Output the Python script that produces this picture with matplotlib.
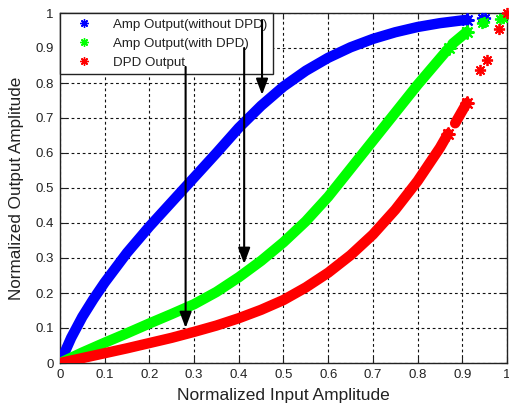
import matplotlib
matplotlib.use("Agg")
import matplotlib.pyplot as plt
from matplotlib.lines import Line2D

plt.rcParams['font.family'] = ['Liberation Sans', 'DejaVu Sans']

# ---- data ----
blue_x = [0.0, 0.025, 0.05, 0.075, 0.10, 0.15, 0.20, 0.25, 0.30, 0.35, 0.40, 0.45, 0.50,
          0.55, 0.60, 0.65, 0.70, 0.75, 0.80, 0.85, 0.90, 0.91]
blue_y = [0.0, 0.072, 0.132, 0.183, 0.23, 0.315, 0.39, 0.46, 0.53, 0.60, 0.672, 0.735, 0.79,
          0.835, 0.872, 0.902, 0.926, 0.945, 0.96, 0.971, 0.979, 0.98]
blue_extra_x = [0.944, 0.95]
blue_extra_y = [0.985, 0.987]

green_x1 = [0.0, 0.05, 0.10, 0.15, 0.20, 0.25, 0.30, 0.35, 0.40, 0.45, 0.50, 0.55, 0.60,
            0.65, 0.70, 0.75, 0.80, 0.85, 0.87]
green_y1 = [0.0, 0.03, 0.058, 0.085, 0.113, 0.14, 0.168, 0.203, 0.245, 0.292, 0.345, 0.405,
            0.475, 0.555, 0.635, 0.715, 0.795, 0.87, 0.90]
green_x2 = [0.878, 0.91]
green_y2 = [0.912, 0.946]
green_extra_x = [0.944, 0.948, 0.984, 0.99]
green_extra_y = [0.971, 0.975, 0.983, 0.985]

red_x1 = [0.0, 0.05, 0.10, 0.15, 0.20, 0.25, 0.30, 0.35, 0.40, 0.45, 0.50, 0.55, 0.60,
          0.65, 0.70, 0.75, 0.80, 0.85, 0.868]
red_y1 = [0.0, 0.014, 0.028, 0.042, 0.057, 0.072, 0.089, 0.107, 0.128, 0.152, 0.18, 0.216,
          0.258, 0.308, 0.367, 0.438, 0.52, 0.615, 0.655]
red_x2 = [0.884, 0.91]
red_y2 = [0.685, 0.743]
red_extra_x = [0.94, 0.955, 0.982, 1.0]
red_extra_y = [0.837, 0.866, 0.954, 1.0]

labels = ['Amp Output(without DPD)', 'Amp Output(with DPD)', 'DPD Output']
colors = ['#0000ff', '#00ff00', '#ff0000']

ticks = [0, 0.1, 0.2, 0.3, 0.4, 0.5, 0.6, 0.7, 0.8, 0.9, 1]
tick_labels = ['0', '0.1', '0.2', '0.3', '0.4', '0.5', '0.6', '0.7', '0.8', '0.9', '1']

# arrows: x, y_start, y_end
arrow_x = [0.281, 0.412, 0.452]
arrow_y0 = [0.846, 0.90, 0.98]
arrow_y1 = [0.10, 0.283, 0.766]

# ---- figure ----
fig = plt.figure(figsize=(5.1, 4.08), dpi=100)
ax = fig.add_axes([60/510, 1-363/408, (507-60)/510, (363-13)/408])

ast = (8, 2, 0)
lw = 7.5
ms = 8
for xs, ys, c in [(blue_x, blue_y, colors[0]), (green_x1, green_y1, colors[1]),
                  (green_x2, green_y2, colors[1]), (red_x1, red_y1, colors[2]),
                  (red_x2, red_y2, colors[2])]:
    ax.plot(xs, ys, color=c, lw=lw, solid_capstyle='round', solid_joinstyle='round', zorder=3)
    ax.plot([xs[-1]], [ys[-1]], linestyle='none', marker=ast, ms=ms + 2, mec=c, mew=1.5, zorder=3)

for xs, ys, c in [(blue_extra_x, blue_extra_y, colors[0]), (green_extra_x, green_extra_y, colors[1]),
                  (red_extra_x, red_extra_y, colors[2])]:
    ax.plot(xs, ys, linestyle='none', marker=ast, ms=ms, mec=c, mew=1.3, zorder=4, clip_on=False)

for x, y0, y1 in zip(arrow_x, arrow_y0, arrow_y1):
    ax.annotate('', xy=(x, y1), xytext=(x, y0),
                arrowprops=dict(arrowstyle='-|>,head_length=0.8,head_width=0.3', color='k',
                                lw=1.5, shrinkA=0, shrinkB=0, mutation_scale=12),
                zorder=6)

ax.set_xlim(0, 1)
ax.set_ylim(0, 1)
ax.set_xticks(ticks)
ax.set_xticklabels(tick_labels)
ax.set_yticks(ticks)
ax.set_yticklabels(tick_labels)
ax.tick_params(direction='in', length=4, width=0.8, top=True, right=True,
               labelsize=9.5, pad=4.5, colors='#222222', labelcolor='#222222')
ax.grid(True, color='#111111', linestyle=(0, (2.5, 2.5)), linewidth=0.8)
ax.set_axisbelow(True)
for s in ax.spines.values():
    s.set_linewidth(1.0)
    s.set_color('#222222')

ax.set_xlabel('Normalized Input Amplitude', fontsize=12.5, color='#222222', labelpad=5)
ax.set_ylabel('Normalized Output Amplitude', fontsize=12.3, color='#222222', labelpad=8)

handles = [Line2D([], [], linestyle='none', marker=ast, ms=6, mec=c, mew=1.0) for c in colors]
leg = ax.legend(handles, labels, loc='upper left', bbox_to_anchor=(0, 1), borderaxespad=0,
                fontsize=9.6, frameon=True, fancybox=False, edgecolor='#222222',
                handlelength=2.8, handletextpad=0.8, borderpad=0.4, labelspacing=0.5,
                numpoints=1)
leg.get_frame().set_linewidth(1.0)
leg.get_frame().set_alpha(1)
leg.set_zorder(5)
for t in leg.get_texts():
    t.set_color('#222222')

fig.savefig('out.png', dpi=100)
